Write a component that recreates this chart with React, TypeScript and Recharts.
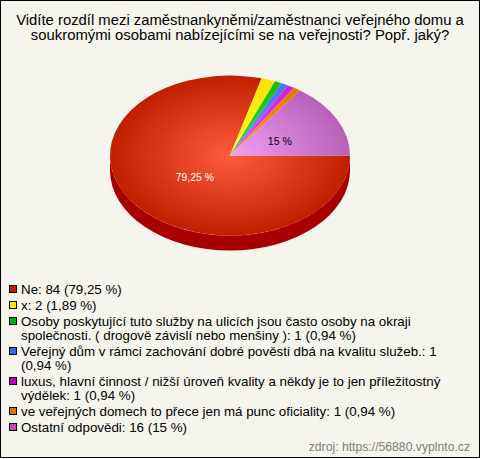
import React from "react";
import { PieChart, Pie, Cell } from "recharts";

const titleLines = [
  "Vidíte rozdíl mezi zaměstnankyněmi/zaměstnanci veřejného domu a",
  "soukromými osobami nabízejícími se na veřejnosti? Popř. jaký?",
];
const categories = [
  "Ne: 84 (79,25 %)",
  "x: 2 (1,89 %)",
  "Osoby poskytující tuto služby na ulicích jsou často osoby na okraji společnosti. ( drogově závislí nebo menšiny ): 1 (0,94 %)",
  "Veřejný dům v rámci zachování dobré pověsti dbá na kvalitu služeb.: 1 (0,94 %)",
  "luxus, hlavní činnost / nižší úroveň kvality a někdy je to jen příležitostný výdělek: 1 (0,94 %)",
  "ve veřejných domech to přece jen má punc oficiality: 1 (0,94 %)",
  "Ostatní odpovědi: 16 (15 %)",
];
const values = [84, 2, 1, 1, 1, 1, 16];
const sliceLabels = ["79,25 %", "", "", "", "", "", "15 %"];
const labelColors = ["#ffffff", "", "", "", "", "", "#000000"];
const innerColors = ["#ff5c3e", "#ffff20", "#20e020", "#7090ff", "#ff40ff", "#ff9a10", "#f0a2f2"];
const outerColors = ["#c01f00", "#ffe000", "#10c010", "#5070f0", "#d020d0", "#e07800", "#b860b8"];
const legendColors = ["#c01f00", "#ffe800", "#00b000", "#3a66e8", "#c000c0", "#e07000", "#b850b0"];

const data = categories.map((name, i) => ({ name, value: values[i] }));

const W = 480;
const H = 458;
const CX = 230;
const CY = 155.5;
const RX = 120;
const RY = 80;
const DEPTH = 15;

const RAD = Math.PI / 180;

// recharts only draws circles, so the sector angles are mapped on an ellipse
const EllipseSlice = (props: any) => {
  const { cx, cy, outerRadius, startAngle, endAngle, fill, index } = props;
  const ry = (outerRadius * RY) / RX;
  const x1 = cx + outerRadius * Math.cos(startAngle * RAD);
  const y1 = cy - ry * Math.sin(startAngle * RAD);
  const x2 = cx + outerRadius * Math.cos(endAngle * RAD);
  const y2 = cy - ry * Math.sin(endAngle * RAD);
  const large = Math.abs(endAngle - startAngle) > 180 ? 1 : 0;
  const sweep = endAngle < startAngle ? 1 : 0;
  const r = `${outerRadius} ${ry}`;
  const xl = cx - outerRadius;
  const xr = cx + outerRadius;
  return (
    <g>
      {index === 0 && (
        <path
          d={`M${xr} ${cy}A${r} 0 0 1 ${xl} ${cy}L${xl} ${cy + DEPTH}A${r} 0 0 0 ${xr} ${cy + DEPTH}Z`}
          fill="#a80000"
        />
      )}
      <path d={`M${cx} ${cy}L${x1} ${y1}A${r} 0 ${large} ${sweep} ${x2} ${y2}Z`} fill={fill} />
    </g>
  );
};

const SliceLabel = (props: any) => {
  const { cx, cy, outerRadius, midAngle, index } = props;
  if (!sliceLabels[index]) return null;
  const ry = (outerRadius * RY) / RX;
  const x = cx + 0.42 * outerRadius * Math.cos(midAngle * RAD) + 5;
  const y = cy - 0.42 * ry * Math.sin(midAngle * RAD) + 1;
  return (
    <text
      x={x}
      y={y}
      fill={labelColors[index]}
      textAnchor="middle"
      dominantBaseline="central"
      fontSize={10.5}
      fontFamily="Liberation Sans"
    >
      {sliceLabels[index]}
    </text>
  );
};

const LegendList = () => (
  <div
    style={{
      position: "absolute",
      left: 8,
      top: 282,
      width: 450,
      fontFamily: "Liberation Sans",
      fontSize: 13.33,
      lineHeight: "14px",
      color: "#000",
    }}
  >
    {categories.map((name, i) => (
      <div key={name} style={{ position: "relative", paddingLeft: 12, marginBottom: 2 }}>
        <span
          style={{
            position: "absolute",
            left: 0,
            top: 2,
            width: 6,
            height: 6,
            background: legendColors[i],
            border: "1px solid #000",
          }}
        />
        {name}
      </div>
    ))}
  </div>
);

export default function App() {
  return (
    <div
      style={{
        position: "absolute",
        left: 0,
        top: 0,
        width: W,
        height: H,
        boxSizing: "border-box",
        background: "#f5f5ed",
        border: "1px solid #000",
      }}
    >
      <PieChart width={W - 2} height={H - 2} margin={{ top: 0, right: 0, bottom: 0, left: 0 }}>
        <defs>
          {innerColors.map((c, i) => (
            <radialGradient
              key={c}
              id={`slice${i}`}
              gradientUnits="userSpaceOnUse"
              cx={0}
              cy={0}
              r={1}
              gradientTransform={`translate(${CX - 1} ${CY - 1}) scale(${RX} ${RY})`}
            >
              <stop offset="0" stopColor={c} />
              <stop offset="1" stopColor={outerColors[i]} />
            </radialGradient>
          ))}
        </defs>
        <text textAnchor="middle" fontFamily="Liberation Sans" fontSize={14.85} fill="#000">
          {titleLines.map((line, i) => (
            <tspan key={line} x={W / 2 - 1} y={24 + i * 15}>
              {line}
            </tspan>
          ))}
        </text>
        <Pie
          data={data}
          dataKey="value"
          nameKey="name"
          cx={CX - 1}
          cy={CY - 1}
          outerRadius={RX}
          innerRadius={0}
          startAngle={0}
          endAngle={-360}
          stroke="none"
          label={SliceLabel}
          labelLine={false}
          shape={EllipseSlice}
          isAnimationActive={false}
        >
          {data.map((d, i) => (
            <Cell key={d.name} fill={`url(#slice${i})`} />
          ))}
        </Pie>
        <text x={469} y={450} textAnchor="end" fontFamily="Liberation Sans" fontSize={12.2} fill="#808080">
          zdroj: https://56880.vyplnto.cz
        </text>
      </PieChart>
      <LegendList />
    </div>
  );
}
